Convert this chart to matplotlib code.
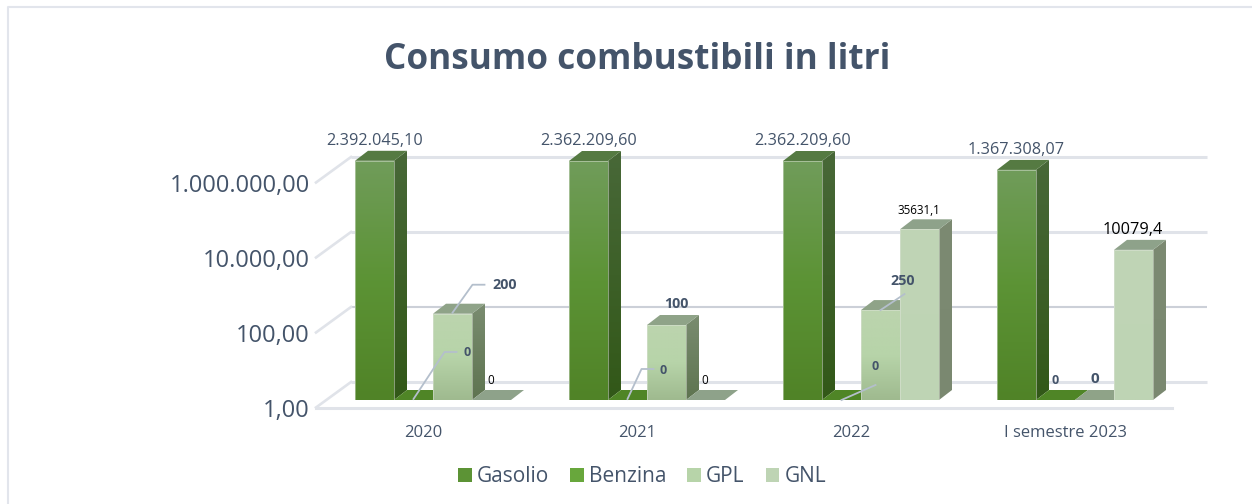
import numpy as np
import matplotlib
matplotlib.use('Agg')
import matplotlib.pyplot as plt
from matplotlib.lines import Line2D
from matplotlib.patches import Polygon, Patch
from matplotlib.transforms import Affine2D, IdentityTransform

plt.rcParams['font.family'] = ['Open Sans', 'DejaVu Sans']

anni = ['2020', '2021', '2022', 'I semestre 2023']
serie = ['Gasolio', 'Benzina', 'GPL', 'GNL']
gasolio = [2392045.10, 2362209.60, 2362209.60, 1367308.07]
benzina = [0, 0, 0, 0]
gpl = [200, 100, 250, 0]
gnl = [0, 0, 35631.1, 10079.4]
etichette_gasolio = ['2.392.045,10', '2.362.209,60', '2.362.209,60', '1.367.308,07']
etichette_gnl = ['0', '0', '35631,1', '10079,4']
tick_valori = [1, 100, 10000, 1000000]
tick_etichette = ['1,00', '100,00', '10.000,00', '1.000.000,00']

BLU = '#44546a'
W, H = 1252, 504

# colori: fronte (alto -> basso), lato (alto -> basso), faccia superiore
stili = {
    'Gasolio': (['#709c5a', '#5c9335', '#508327'], ['#486838', '#325818'], '#557a42'),
    'Benzina': (['#80b860', '#68a73c', '#5f9c34'], ['#466f2a', '#3c6420'], '#4f8526'),
    'GPL': (['#bcd4ae', '#b7d4a9', '#9fba8f'], ['#7a8c70', '#5e7450'], '#8fa388'),
    'GNL': (['#c0d5b6', '#bed4b4'], ['#7c8a72', '#7a8870'], '#8ea28a'),
}

fig = plt.figure(figsize=(W / 100, H / 100), dpi=100)
# il piano degli assi e' quello delle colonne
ax = fig.add_axes([326 / W, (H - 400) / H, 856 / W, 262.5 / H])
ax.set_yscale('log')
ax.set_xlim(-0.5, 3.5)
ax.set_ylim(1, 1e7)
for s in ax.spines.values():
    s.set_visible(False)
ax.patch.set_alpha(0)

DX, DY = 13, 10       # profondita' colonne
BX, BY = 25, 18       # piano di fondo
FX, FY = -10, -7.5    # piano davanti


def gradiente(punti, colori, z):
    pts = np.array(punti)
    poly = Polygon(pts, closed=True, transform=IdentityTransform(), fc='none', ec='none')
    ax.add_patch(poly)
    rgb = np.array([matplotlib.colors.to_rgb(c) for c in colori])
    t = np.linspace(0, 1, 100)
    col = np.stack([np.interp(t, np.linspace(0, 1, len(colori)), rgb[:, i]) for i in range(3)], axis=1)
    im = ax.imshow(col[:, None, :], extent=(pts[:, 0].min(), pts[:, 0].max(), pts[:, 1].min(), pts[:, 1].max()),
                   aspect='auto', origin='upper', transform=IdentityTransform(), zorder=z,
                   interpolation='bilinear')
    im.set_clip_path(poly)
    return im


# griglia
griglia = ax.get_yaxis_transform() + Affine2D().translate(BX, BY)
for v in tick_valori:
    colore = '#ccd0d8' if v == 100 else '#e0e3e9'
    ax.plot([0, 1], [v, v], transform=griglia, color=colore, lw=1.5 if v == 100 else 2.2, zorder=1,
            clip_on=False, solid_capstyle='butt')
    x0, y0 = ax.transData.transform((-0.5, v))
    ax.plot([x0 + FX, x0 + BX], [y0 + FY, y0 + BY], transform=IdentityTransform(), color='#e0e3e9',
            lw=1.9, zorder=1, clip_on=False)
x0, y0 = ax.transData.transform((-0.5, 1))
x1, _ = ax.transData.transform((3.5, 1))
ax.plot([x0 + FX, x1 + FX], [y0 + FY, y0 + FY], transform=IdentityTransform(), color='#e0e3e9', lw=2.2,
        zorder=1, clip_on=False)

# colonne
x = np.arange(len(anni))
larghezza = 39 / 214
valori = [gasolio, benzina, gpl, gnl]
z = 10
for k, (nome, val) in enumerate(zip(serie, valori)):
    fronte, lato, sopra = stili[nome]
    for i, v in enumerate(val):
        pos = x[i] + (k - 1.5) * larghezza
        alto = max(v, 1)
        barra = ax.bar(pos, alto - 1, larghezza, bottom=1, color=fronte[0], zorder=z)[0]
        xa, ya = ax.transData.transform((pos - larghezza / 2, 1))
        xb, yb = ax.transData.transform((pos + larghezza / 2, alto))
        if alto > 1:
            gradiente([(xb, ya), (xb + DX, ya + DY), (xb + DX, yb + DY), (xb, yb)], lato, z + 1)
        ax.add_patch(Polygon([(xa, yb), (xb, yb), (xb + DX, yb + DY), (xa + DX, yb + DY)],
                             transform=IdentityTransform(), fc=sopra, ec='none', zorder=z + 1))
        if alto > 1:
            gradiente([(xa, ya), (xb, ya), (xb, yb), (xa, yb)], fronte, z + 2)
            ax.add_patch(Polygon([(xa, ya), (xb, ya), (xb, yb), (xa, yb)], transform=IdentityTransform(),
                                 fc='none', ec='#dfe5da', lw=0.5, alpha=0.7, zorder=z + 3))
        z += 4

# assi
ax.set_xticks(x)
ax.set_xticklabels(anni, fontsize=12, color=BLU)
ax.set_yticks(tick_valori)
ax.set_yticklabels(tick_etichette, fontsize=17, color=BLU)
ax.minorticks_off()
ax.tick_params(length=0)
ax.tick_params(axis='y', pad=11.6)
ax.tick_params(axis='x', pad=18)
for t in ax.get_yticklabels():
    t.set_transform(t.get_transform() + Affine2D().translate(0, -8))
for t in ax.get_xticklabels():
    t.set_transform(t.get_transform() + Affine2D().translate(-10, 0))


def etichetta(xv, yv, testo, dx, dy, size=11.7, color=BLU, weight='normal'):
    ax.annotate(testo, xy=(xv, yv), xytext=(dx, dy), textcoords='offset pixels', ha='center', va='center',
                fontsize=size, color=color, fontweight=weight, zorder=2000, annotation_clip=False)


def guida(xv, yv, punti):
    x0, y0 = ax.transData.transform((xv, yv))
    ax.plot([x0 + p[0] for p in punti], [y0 + p[1] for p in punti], transform=IdentityTransform(),
            color='#b4bfcc', lw=1.3, zorder=1999, clip_on=False)


sposta = (np.arange(4) - 1.5) * larghezza
for i in x:
    etichetta(i + sposta[0], gasolio[i], etichette_gasolio[i], 0, 20)

# etichette spostate a mano, come nell'originale
etichetta(0 + sposta[1], 1, '0', 54, 47, 9, BLU, 'bold')
guida(0 + sposta[1], 1, [(0, 1), (31, 48), (43, 48)])
etichetta(0 + sposta[2], 200, '200', 52, 29, 10.3, BLU, 'bold')
guida(0 + sposta[2], 200, [(0, 1), (20, 29), (32, 29)])
etichetta(0 + sposta[3], 1, '0', -1, 20, 8.5, 'black')

etichetta(1 + sposta[1], 1, '0', 36, 30, 9, BLU, 'bold')
guida(1 + sposta[1], 1, [(0, 1), (14, 31), (26, 31)])
etichetta(1 + sposta[2], 100, '100', 10, 21, 10.3, BLU, 'bold')
etichetta(1 + sposta[3], 1, '0', -1, 20, 8.5, 'black')

etichetta(2 + sposta[1], 1, '0', 34, 33, 9, BLU, 'bold')
guida(2 + sposta[1], 1, [(0, 0), (34, 15)])
etichetta(2 + sposta[2], 250, '250', 22, 29, 10.3, BLU, 'bold')
guida(2 + sposta[2], 250, [(0, 0), (24, 16)])
etichetta(2 + sposta[3], 35631.1, etichette_gnl[2], -1, 19, 8.4, 'black')

etichetta(3 + sposta[1], 1, '0', -0.5, 20, 9, BLU, 'bold')
etichetta(3 + sposta[2], 1, '0', 0, 21, 11, BLU, 'bold')
etichetta(3 + sposta[3], 10079.4, etichette_gnl[3], -1, 20, 11.7, 'black')

# legenda
maniglie = [Patch(fc=stili[s][0][1], ec='none', label=s) for s in serie]
leg = ax.legend(handles=maniglie, loc='center', bbox_to_anchor=(642 / W, (H - 477) / H),
                bbox_transform=fig.transFigure, ncol=4, frameon=False, fontsize=15, labelcolor=BLU,
                handlelength=0.67, handleheight=0.67, handletextpad=0.24, columnspacing=1.0)
fig.canvas.draw()
for p, s in zip(leg.get_patches(), serie):
    b = p.get_window_extent()
    gradiente([(b.x0, b.y0), (b.x1, b.y0), (b.x1, b.y1), (b.x0, b.y1)], stili[s][0], leg.get_zorder() + 1)

fig.text(637 / W, 1 - 60 / H, 'Consumo combustibili in litri', ha='center', va='center', fontsize=25.3,
         fontweight='bold', color=BLU)

# cornice del riquadro
fig.add_artist(Line2D([8 / W, 8 / W, 1], [0, 1 - 7 / H, 1 - 7 / H], color='#e2e5ec', lw=1.5))

fig.savefig('out.png', dpi=100, facecolor='white')
